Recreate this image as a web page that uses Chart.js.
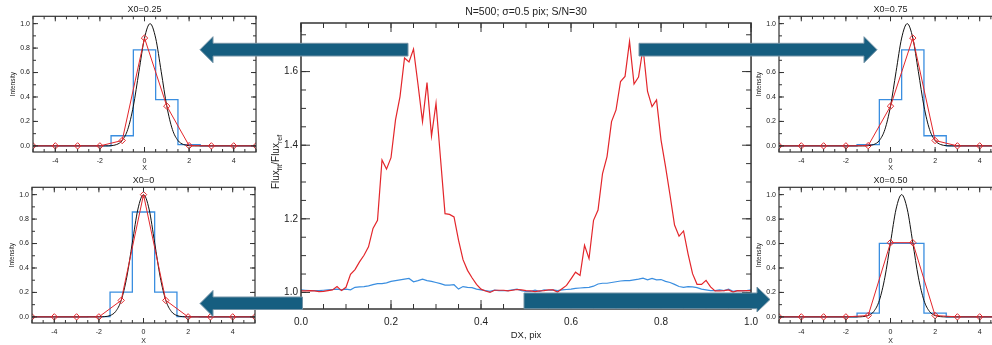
<!DOCTYPE html>
<html>
<head>
<meta charset="utf-8">
<script src="https://cdn.jsdelivr.net/npm/chart.js@4.4.1/dist/chart.umd.min.js"></script>
<style>
  html, body { margin: 0; padding: 0; background: #fff; }
  #fig { position: relative; width: 992px; height: 345px; overflow: hidden; background: #fff; }
  #fig canvas { position: absolute; }
  #arrows { position: absolute; left: 0; top: 0; }
</style>
</head>
<body>
<div id="fig">
  <canvas id="mainChart" width="510" height="345" style="left:255px;top:0px"></canvas>
  <canvas id="panel025" width="262" height="171" style="left:0px;top:1px"></canvas>
  <canvas id="panel000" width="262" height="173" style="left:-1px;top:172px"></canvas>
  <canvas id="panel075" width="262" height="171" style="left:746px;top:1px"></canvas>
  <canvas id="panel050" width="262" height="173" style="left:746px;top:172px"></canvas>
  <svg id="arrows" width="992" height="345">
    <g fill="#165e80" stroke="#7393a6" stroke-width="1">
      <polygon points="200,49.7 213,36.7 213,43.3 408,43.3 408,56 213,56 213,62.7"/>
      <polygon points="639,43.3 864,43.3 864,36.7 877,49.7 864,62.7 864,56 639,56"/>
      <polygon points="200,303.5 213,290.5 213,297 302.5,297 302.5,309.5 213,309.5 213,316.5"/>
      <polygon points="524,293 757,293 757,287 770,299.5 757,312 757,308.7 524,308.7"/>
    </g>
  </svg>
</div>
<script>
// main panel: flux ratio vs sub-pixel shift
const dxValues = [
  0.00, 0.01, 0.02, 0.03, 0.04, 0.05, 0.06, 0.07, 0.08, 0.09,
  0.10, 0.11, 0.12, 0.13, 0.14, 0.15, 0.16, 0.17, 0.18, 0.19,
  0.20, 0.21, 0.22, 0.23, 0.24, 0.25, 0.26, 0.27, 0.28, 0.29,
  0.30, 0.31, 0.32, 0.33, 0.34, 0.35, 0.36, 0.37, 0.38, 0.39,
  0.40, 0.41, 0.42, 0.43, 0.44, 0.45, 0.46, 0.47, 0.48, 0.49,
  0.50, 0.51, 0.52, 0.53, 0.54, 0.55, 0.56, 0.57, 0.58, 0.59,
  0.60, 0.61, 0.62, 0.63, 0.64, 0.65, 0.66, 0.67, 0.68, 0.69,
  0.70, 0.71, 0.72, 0.73, 0.74, 0.75, 0.76, 0.77, 0.78, 0.79,
  0.80, 0.81, 0.82, 0.83, 0.84, 0.85, 0.86, 0.87, 0.88, 0.89,
  0.90, 0.91, 0.92, 0.93, 0.94, 0.95, 0.96, 0.97, 0.98, 0.99,
  1.00
];
const fluxRed = [
  1.004, 1.004, 1.005, 1.004, 1.002, 1.003, 1.005, 1.007, 1.016, 1.005,
  1.014, 1.049, 1.062, 1.083, 1.101, 1.124, 1.174, 1.196, 1.360, 1.335,
  1.366, 1.469, 1.532, 1.637, 1.626, 1.661, 1.565, 1.464, 1.570, 1.425,
  1.514, 1.364, 1.214, 1.212, 1.205, 1.142, 1.089, 1.060, 1.040, 1.022,
  1.009, 1.004, 1.000, 1.006, 1.006, 1.006, 1.004, 1.006, 1.008, 1.007,
  1.005, 1.004, 1.002, 1.004, 1.005, 1.007, 1.007, 1.001, 1.010, 1.019,
  1.037, 1.055, 1.046, 1.128, 1.092, 1.196, 1.224, 1.323, 1.369, 1.464,
  1.496, 1.573, 1.587, 1.682, 1.566, 1.585, 1.664, 1.546, 1.505, 1.523,
  1.414, 1.342, 1.264, 1.183, 1.153, 1.167, 1.105, 1.051, 1.022, 1.022,
  1.033, 1.015, 1.004, 1.004, 1.005, 1.007, 1.001, 1.005, 1.004, 1.005,
  1.005
];
const fluxBlue = [
  1.007, 1.006, 1.005, 1.005, 1.005, 1.006, 1.007, 1.008, 1.009, 1.007,
  1.009, 1.007, 1.014, 1.015, 1.016, 1.018, 1.021, 1.024, 1.024, 1.026,
  1.030, 1.032, 1.034, 1.036, 1.038, 1.029, 1.032, 1.036, 1.032, 1.030,
  1.027, 1.024, 1.020, 1.020, 1.021, 1.009, 1.016, 1.014, 1.013, 1.009,
  1.007, 1.005, 1.003, 1.006, 1.005, 1.005, 1.005, 1.007, 1.009, 1.005,
  1.003, 1.003, 1.006, 1.003, 1.007, 1.006, 1.007, 1.005, 1.007, 1.008,
  1.009, 1.011, 1.012, 1.013, 1.014, 1.017, 1.023, 1.025, 1.025, 1.027,
  1.029, 1.031, 1.032, 1.032, 1.034, 1.036, 1.039, 1.034, 1.038, 1.034,
  1.035, 1.030, 1.027, 1.022, 1.016, 1.014, 1.016, 1.015, 1.013, 1.009,
  1.007, 1.005, 1.005, 1.007, 1.005, 1.009, 1.003, 1.005, 1.005, 1.005,
  1.007
];
const mainXTicks = [0.0, 0.2, 0.4, 0.6, 0.8, 1.0];
const mainYTicks = [1.0, 1.2, 1.4, 1.6];

// small panels: pixel grid, gaussian profile, sampled and binned values
const pixelX = [-5, -4, -3, -2, -1, 0, 1, 2, 3, 4, 5];
const profileOffset = [-2, -1.75, -1.5, -1.25, -1, -0.75, -0.5, -0.25, 0, 0.25, 0.5, 0.75, 1, 1.25, 1.5, 1.75, 2];
const profileValue = [0.000, 0.002, 0.011, 0.044, 0.135, 0.325, 0.607, 0.882, 1.0, 0.882, 0.607, 0.325, 0.135, 0.044, 0.011, 0.002, 0.000];
const sampled025 = [0, 0, 0, 0, 0.044, 0.882, 0.325, 0.002, 0, 0, 0];
const binned025  = [0, 0, 0, 0, 0.083, 0.785, 0.378, 0.010, 0, 0, 0];
const sampled000 = [0, 0, 0, 0, 0.135, 1.0, 0.135, 0, 0, 0, 0];
const binned000  = [0, 0, 0, 0.002, 0.202, 0.858, 0.202, 0.002, 0, 0, 0];
const sampled075 = [0, 0, 0, 0, 0.002, 0.325, 0.882, 0.044, 0, 0, 0];
const binned075  = [0, 0, 0, 0, 0.010, 0.378, 0.785, 0.083, 0, 0, 0];
const sampled050 = [0, 0, 0, 0, 0.011, 0.607, 0.607, 0.011, 0, 0, 0];
const binned050  = [0, 0, 0, 0, 0.030, 0.602, 0.602, 0.030, 0, 0, 0];
const panelXTicks = [-4, -2, 0, 2, 4];
const panelYTicks = [0.0, 0.2, 0.4, 0.6, 0.8, 1.0];

const FONT = "'Liberation Sans', Arial, sans-serif";
Chart.defaults.font.family = FONT;
Chart.defaults.color = "#222";

const RED = "#e3262b";
const BLUE = "#3a8ee0";

// IDL-like box with inward major and minor ticks on all four sides
const boxTicks = {
  id: "boxTicks",
  afterDatasetsDraw(chart, args, o) {
    const { ctx, chartArea: a, scales: { x, y } } = chart;
    ctx.save();
    ctx.strokeStyle = o.color;
    ctx.lineWidth = o.lineWidth;
    ctx.strokeRect(a.left, a.top, a.right - a.left, a.bottom - a.top);
    ctx.lineWidth = 1;
    ctx.beginPath();
    const xMark = (v, len) => {
      const p = x.getPixelForValue(v);
      ctx.moveTo(p, a.bottom); ctx.lineTo(p, a.bottom - len);
      ctx.moveTo(p, a.top); ctx.lineTo(p, a.top + len);
    };
    const yMark = (v, len) => {
      const p = y.getPixelForValue(v);
      ctx.moveTo(a.left, p); ctx.lineTo(a.left + len, p);
      ctx.moveTo(a.right, p); ctx.lineTo(a.right - len, p);
    };
    for (let i = Math.ceil(x.min / o.xMinor - 1e-6); i * o.xMinor <= x.max + 1e-6; i++) xMark(i * o.xMinor, o.minor);
    for (let i = Math.ceil(y.min / o.yMinor - 1e-6); i * o.yMinor <= y.max + 1e-6; i++) yMark(i * o.yMinor, o.minor);
    x.ticks.forEach(t => xMark(t.value, o.major));
    y.ticks.forEach(t => yMark(t.value, o.major));
    ctx.stroke();
    ctx.restore();
  }
};

// y title of the main panel, with subscripts
const fluxTitle = {
  id: "fluxTitle",
  afterDraw(chart) {
    const { ctx, chartArea: a } = chart;
    const parts = [["Flux", 10, 0], ["fit", 7, 3], ["/Flux", 10, 0], ["ref", 7, 3]];
    ctx.save();
    ctx.fillStyle = "#222";
    ctx.textBaseline = "alphabetic";
    let total = 0;
    parts.forEach(p => { ctx.font = p[1] + "px " + FONT; total += ctx.measureText(p[0]).width; });
    ctx.translate(a.left - 22, (a.top + a.bottom) / 2 - 4);
    ctx.rotate(-Math.PI / 2);
    let cx = -total / 2;
    parts.forEach(p => {
      ctx.font = p[1] + "px " + FONT;
      ctx.fillText(p[0], cx, p[2]);
      cx += ctx.measureText(p[0]).width;
    });
    ctx.restore();
  }
};

new Chart(document.getElementById("mainChart"), {
  type: "line",
  data: {
    datasets: [
      {
        label: "fit",
        data: dxValues.map((d, i) => ({ x: d, y: fluxRed[i] })),
        borderColor: RED,
        borderWidth: 1.2,
        pointRadius: 0,
        order: 0
      },
      {
        label: "ref",
        data: dxValues.map((d, i) => ({ x: d, y: fluxBlue[i] })),
        borderColor: BLUE,
        borderWidth: 1.2,
        pointRadius: 0,
        order: 1
      }
    ]
  },
  options: {
    responsive: false,
    animation: false,
    layout: { padding: { left: 0, right: 13, top: 0, bottom: 0 } },
    plugins: {
      legend: { display: false },
      tooltip: { enabled: false },
      title: {
        display: true,
        fullSize: false,
        text: "N=500; \u03c3=0.5 pix; S/N=30",
        font: { size: 10.5, weight: "normal" },
        color: "#222",
        padding: { top: 6, bottom: 4.4 }
      },
      boxTicks: { color: "#333", lineWidth: 1.5, major: 9, minor: 5, xMinor: 0.05, yMinor: 0.05 }
    },
    scales: {
      x: {
        type: "linear",
        min: 0,
        max: 1,
        afterBuildTicks: s => { s.ticks = mainXTicks.map(v => ({ value: v })); },
        afterFit: s => { s.height = 36; },
        grid: { display: false, drawTicks: false },
        border: { display: false },
        ticks: { font: { size: 10 }, color: "#222", padding: 7, maxRotation: 0, callback: v => v.toFixed(1) },
        title: { display: true, text: "DX, pix", font: { size: 9.5 }, color: "#222", padding: { top: 0, bottom: 4 } }
      },
      y: {
        type: "linear",
        min: 0.955,
        max: 1.732,
        afterBuildTicks: s => { s.ticks = mainYTicks.map(v => ({ value: v })); },
        afterFit: s => { s.width = 46; },
        grid: { display: false, drawTicks: false },
        border: { display: false },
        ticks: { font: { size: 10 }, color: "#222", padding: 3, callback: v => v.toFixed(1) }
      }
    }
  },
  plugins: [boxTicks, fluxTitle]
});

function makePanel(id, title, x0, sampled, binned, xHeight) {
  new Chart(document.getElementById(id), {
    type: "line",
    data: {
      datasets: [
        {
          label: "sampled",
          data: pixelX.map((px, i) => ({ x: px, y: sampled[i] })),
          borderColor: RED,
          borderWidth: 1,
          pointStyle: "rectRot",
          pointRadius: 3.2,
          pointBorderColor: RED,
          pointBorderWidth: 1,
          pointBackgroundColor: "rgba(0,0,0,0)",
          order: 0
        },
        {
          label: "profile",
          data: [{ x: -5, y: 0 }]
            .concat(profileOffset.map((o, i) => ({ x: x0 + o, y: profileValue[i] })))
            .concat([{ x: 5, y: 0 }]),
          borderColor: "#111",
          borderWidth: 1,
          pointRadius: 0,
          cubicInterpolationMode: "monotone",
          order: 1
        },
        {
          label: "binned",
          data: pixelX.map((px, i) => ({ x: px, y: binned[i] })),
          borderColor: BLUE,
          borderWidth: 1.3,
          pointRadius: 0,
          stepped: "middle",
          order: 2
        }
      ]
    },
    options: {
      responsive: false,
      animation: false,
      layout: { padding: { left: 0, right: 6, top: 0, bottom: 0 } },
      plugins: {
        legend: { display: false },
        tooltip: { enabled: false },
        title: {
          display: true,
          fullSize: false,
          text: title,
          font: { size: 9, weight: "normal" },
          color: "#222",
          padding: { top: 3.5, bottom: 1 }
        },
        boxTicks: { color: "#333", lineWidth: 1.2, major: 5, minor: 3, xMinor: 0.5, yMinor: 0.1 }
      },
      scales: {
        x: {
          type: "linear",
          min: -5,
          max: 5,
          afterBuildTicks: s => { s.ticks = panelXTicks.map(v => ({ value: v })); },
          afterFit: s => { s.height = xHeight; },
          grid: { display: false, drawTicks: false },
          border: { display: false },
          ticks: { font: { size: 7 }, color: "#222", padding: 5, maxRotation: 0 },
          title: { display: true, text: "X", font: { size: 7 }, color: "#222", padding: { top: 0, bottom: 0 } }
        },
        y: {
          type: "linear",
          min: -0.05,
          max: 1.06,
          afterBuildTicks: s => { s.ticks = panelYTicks.map(v => ({ value: v })); },
          afterFit: s => { s.width = 33; },
          grid: { display: false, drawTicks: false },
          border: { display: false },
          ticks: { font: { size: 7 }, color: "#222", padding: 3, callback: v => v.toFixed(1) },
          title: { display: true, text: "Intensity", font: { size: 6.5 }, color: "#222", padding: { top: 9, bottom: 0 } }
        }
      }
    },
    plugins: [boxTicks]
  });
}

makePanel("panel025", "X0=0.25", 0.25, sampled025, binned025, 20);
makePanel("panel000", "X0=0", 0, sampled000, binned000, 22);
makePanel("panel075", "X0=0.75", 0.75, sampled075, binned075, 20);
makePanel("panel050", "X0=0.50", 0.5, sampled050, binned050, 22);
</script>
</body>
</html>
